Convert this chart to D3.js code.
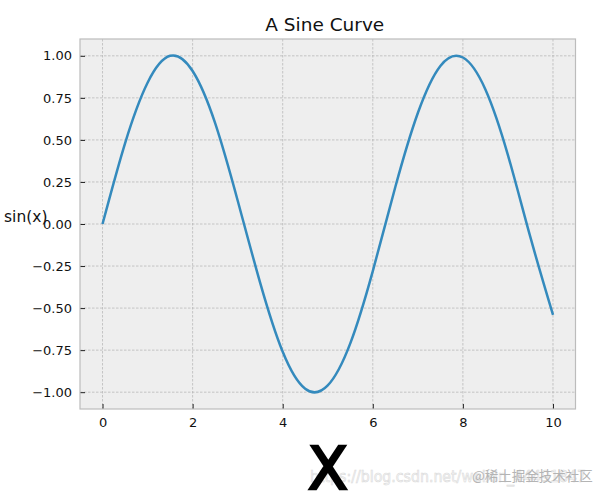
<!DOCTYPE html>
<html>
<head>
<meta charset="utf-8">
<script src="https://cdn.jsdelivr.net/npm/d3@7"></script>
<style>
    body { margin: 0; background: #fff; }
    svg { display: block; font-family: "DejaVu Sans", sans-serif; }
</style>
</head>
<body>
<svg id="chart" width="598" height="496"></svg>
<script>
// values (x step 0.5)
const xValues = [0, 0.5, 1, 1.5, 2, 2.5, 3, 3.5, 4, 4.5, 5, 5.5, 6, 6.5, 7, 7.5, 8, 8.5, 9, 9.5, 10];
const yValues = [0, 0.48, 0.84, 1.0, 0.91, 0.6, 0.14, -0.35, -0.76, -0.98, -0.96, -0.71, -0.28, 0.22, 0.66, 0.94, 0.99, 0.8, 0.41, -0.08, -0.54];
const xTicks = [0, 2, 4, 6, 8, 10];
const yTicks = [-1, -0.75, -0.5, -0.25, 0, 0.25, 0.5, 0.75, 1];

const svg = d3.select('#chart');
const margin = { top: 39, right: 22.5, bottom: 87, left: 80 };
const width = 598 - margin.left - margin.right;
const height = 496 - margin.top - margin.bottom;

const x = d3.scaleLinear().domain([-0.5, 10.5]).range([margin.left, margin.left + width]);
const y = d3.scaleLinear().domain([-1.1, 1.1]).range([margin.top + height, margin.top]);

// panel background
svg.append('rect')
    .attr('x', margin.left).attr('y', margin.top)
    .attr('width', width).attr('height', height)
    .attr('fill', '#eeeeee');

// grid
const grid = svg.append('g')
    .attr('stroke', '#b2b2b2')
    .attr('stroke-width', 0.7)
    .attr('stroke-dasharray', '2.5,1.5');
grid.selectAll('.vx').data(xTicks).enter().append('line')
    .attr('x1', d => x(d)).attr('x2', d => x(d))
    .attr('y1', margin.top).attr('y2', margin.top + height);
grid.selectAll('.hy').data(yTicks).enter().append('line')
    .attr('x1', margin.left).attr('x2', margin.left + width)
    .attr('y1', d => y(d)).attr('y2', d => y(d));

// axes, ticks pointing inward
const xAxis = d3.axisBottom(x).tickValues(xTicks).tickSizeInner(-5).tickSizeOuter(0).tickPadding(9)
    .tickFormat(d3.format('d'));
const yAxis = d3.axisLeft(y).tickValues(yTicks).tickSizeInner(-5).tickSizeOuter(0).tickPadding(8)
    .tickFormat(d3.format('.2f'));

const gx = svg.append('g').attr('transform', `translate(0,${margin.top + height})`).call(xAxis);
const gy = svg.append('g').attr('transform', `translate(${margin.left},0)`).call(yAxis);
[gx, gy].forEach(g => {
    g.select('.domain').remove();
    g.selectAll('.tick line').attr('stroke', '#222').attr('stroke-width', 1);
    g.selectAll('.tick text')
        .attr('fill', '#111')
        .style('font-size', '13px')
        .style('font-family', '"DejaVu Sans", sans-serif');
});
gy.selectAll('.tick text').text(d => d3.format('.2f')(d).replace('-', '\u2212'));

// frame
svg.append('rect')
    .attr('x', margin.left).attr('y', margin.top)
    .attr('width', width).attr('height', height)
    .attr('fill', 'none')
    .attr('stroke', '#bcbcbc')
    .attr('stroke-width', 1.2);

// sine line
const line = d3.line()
    .x((d, i) => x(xValues[i]))
    .y(d => y(d))
    .curve(d3.curveNatural);
svg.append('path')
    .datum(yValues)
    .attr('d', line)
    .attr('fill', 'none')
    .attr('stroke', '#348ABD')
    .attr('stroke-width', 2.5);

// title and labels
svg.append('text')
    .attr('x', margin.left + width / 2 - 3).attr('y', 31)
    .attr('text-anchor', 'middle')
    .style('font-size', '18.5px')
    .attr('fill', '#111')
    .text('A Sine Curve');

svg.append('text')
    .attr('x', 4).attr('y', 222)
    .style('font-size', '15.5px')
    .attr('fill', '#111')
    .text('sin(x)');

// watermark (behind the big X label)
svg.append('text')
    .attr('x', 310).attr('y', 482)
    .attr('textLength', 276)
    .attr('lengthAdjust', 'spacingAndGlyphs')
    .style('font-size', '16px')
    .attr('fill', '#f6f6f6')
    .attr('stroke', '#dadada')
    .attr('stroke-width', 0.6)
    .text('https://blog.csdn.net/weixin_44491847');
svg.append('text')
    .attr('x', 472).attr('y', 481)
    .style('font-size', '13.5px')
    .style('font-family', '"Noto Sans CJK SC", sans-serif')
    .attr('fill', '#b4b4b4')
    .text('@稀土掘金技术社区');

svg.append('text')
    .attr('x', margin.left + width / 2).attr('y', 489)
    .attr('text-anchor', 'middle')
    .style('font-size', '58px')
    .attr('fill', '#000')
    .attr('stroke', '#000')
    .attr('stroke-width', 2.5)
    .text('X');
</script>
</body>
</html>
